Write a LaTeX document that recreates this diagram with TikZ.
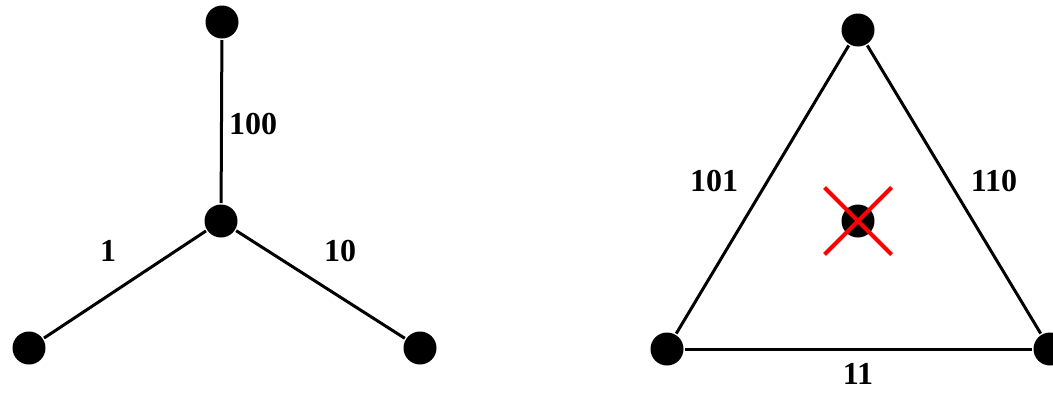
\documentclass[tikz,border=0pt]{standalone}
\usepackage{fontspec}
\setmainfont{Liberation Serif}
\usetikzlibrary{shapes.misc}

\begin{document}
\begin{tikzpicture}[x=1pt, y=-1pt, line width=3pt,
		main/.style = {draw=none, fill=black, circle, inner sep=0pt, minimum size=33pt},
		lbl/.style = {font=\fontsize{32}{36}\selectfont\bfseries, inner sep=0pt},
		cut/.style = {cross out, draw=red, line width=4pt, minimum size=63pt, inner sep=0pt}]
		\useasboundingbox (0,0) rectangle (1053,392);
		% star
		\node[main] (1) at (221,221) {};
		\node[main] (2) at (222,22) {};
		\node[main] (3) at (29,348) {};
		\node[main] (4) at (420,348) {};
		\draw (1) -- (2);
		\draw (1) -- (3);
		\draw (1) -- (4);
		\node[lbl] (l2) at (253,124) {100};
		\node[lbl] (l3) at (108,251) {1};
		\node[lbl] (l4) at (340,251) {10};
		% triangle
		\node[main] (5) at (858,30) {};
		\node[main] (6) at (667,349) {};
		\node[main] (7) at (1050,349) {};
		\node[main] (8) at (858,221) {};
		\draw (5) -- (6);
		\draw (5) -- (7);
		\draw (6) -- (7);
		\node[cut] (x) at (858,221) {};
		\node[lbl] (l56) at (714,181) {101};
		\node[lbl] (l57) at (994,181) {110};
		\node[lbl] (l67) at (858,374) {11};
	\end{tikzpicture}
\end{document}
